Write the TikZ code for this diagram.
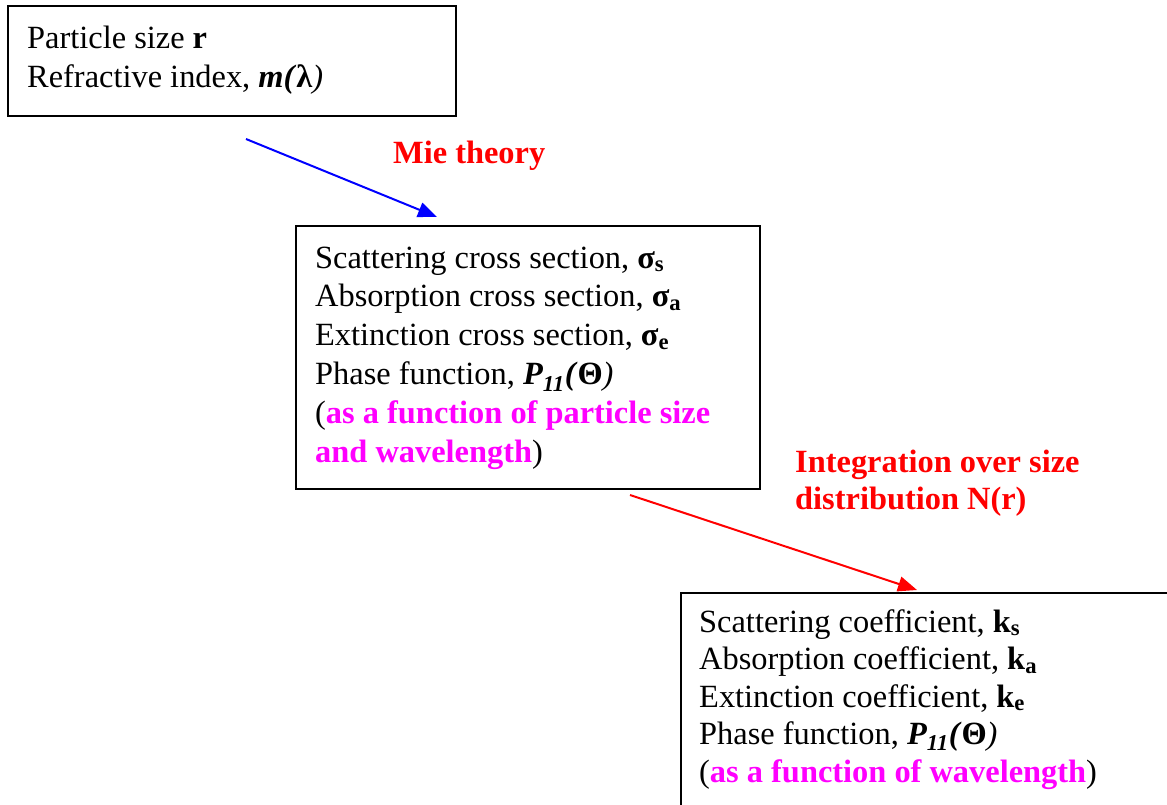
\documentclass[tikz,border=0pt]{standalone}
\usepackage{fontspec}
\setmainfont{Liberation Serif}
\usepackage{xcolor}
\definecolor{fuchsia}{RGB}{255,0,255}
\definecolor{pureblue}{RGB}{0,0,255}
\definecolor{purered}{RGB}{255,0,0}
\usetikzlibrary{arrows.meta}

\begin{document}
\begin{tikzpicture}[x=1pt,y=1pt]
\tikzstyle{frame}=[draw,line width=2pt,inner sep=0pt,anchor=north west];
\tikzstyle{txt}=[inner sep=0pt,anchor=base west,align=flush left,text width=520pt,font=\fontsize{32.4}{38.9}\selectfont,
  execute at begin node={\spaceskip=0pt\xspaceskip=0pt}];
\tikzstyle{step label}=[inner sep=0pt,anchor=base west,align=left,text=purered,font=\fontsize{32.4}{37}\selectfont\bfseries];
\tikzstyle{flow}=[line width=2pt,-{Triangle[length=19pt,width=15pt]}];
\useasboundingbox (0,0) rectangle (1167,-805);
% boxes
\node[frame,minimum width=448pt,minimum height=110pt] (inputs) at (7,-5) {};
\node[frame,minimum width=464pt,minimum height=263pt] (props) at (295,-225) {};
\node[frame,minimum width=520pt,minimum height=240pt] (coeffs) at (680,-592) {};
% box texts
\node[txt] (inputstext) at ([xshift=20pt,yshift=-44pt]inputs.north west)
  {Particle size \textbf{r}\\
   Refractive index, \textbf{\textit{m(}λ}\textit{)}};
\node[txt] (propstext) at ([xshift=20pt,yshift=-43pt]props.north west)
  {Scattering cross section, \textbf{σ\textsubscript{s}}\\
   Absorption cross section, \textbf{σ\textsubscript{a}}\\
   Extinction cross section, \textbf{σ\textsubscript{e}}\\
   Phase function, \textbf{\textit{P\textsubscript{11}(}Θ}\textit{)}\\
   (\textcolor{fuchsia}{\textbf{as a function of particle size}}\\
   \textcolor{fuchsia}{\textbf{and wavelength}})};
\node[txt,font=\fontsize{32.4}{37.5}\selectfont] (coeffstext) at ([xshift=19pt,yshift=-40pt]coeffs.north west)
  {Scattering coefficient, \textbf{k\textsubscript{s}}\\
   Absorption coefficient, \textbf{k\textsubscript{a}}\\
   Extinction coefficient, \textbf{k\textsubscript{e}}\\
   Phase function, \textbf{\textit{P\textsubscript{11}(}Θ}\textit{)}\\
   (\textcolor{fuchsia}{\textbf{as a function of wavelength}})};
% arrows and their labels
\draw[flow,pureblue] ([xshift=239pt,yshift=-22pt]inputs.south west) -- ([xshift=142pt,yshift=8pt]props.north west);
\draw[flow,purered] ([xshift=335pt,yshift=-5pt]props.south west) -- ([xshift=237pt,yshift=2pt]coeffs.north west);
\node[step label] (mie) at (393,-164) {Mie theory};
\node[step label] (integ) at (795,-509) {Integration over size\\distribution N(r)};
\end{tikzpicture}
\end{document}
